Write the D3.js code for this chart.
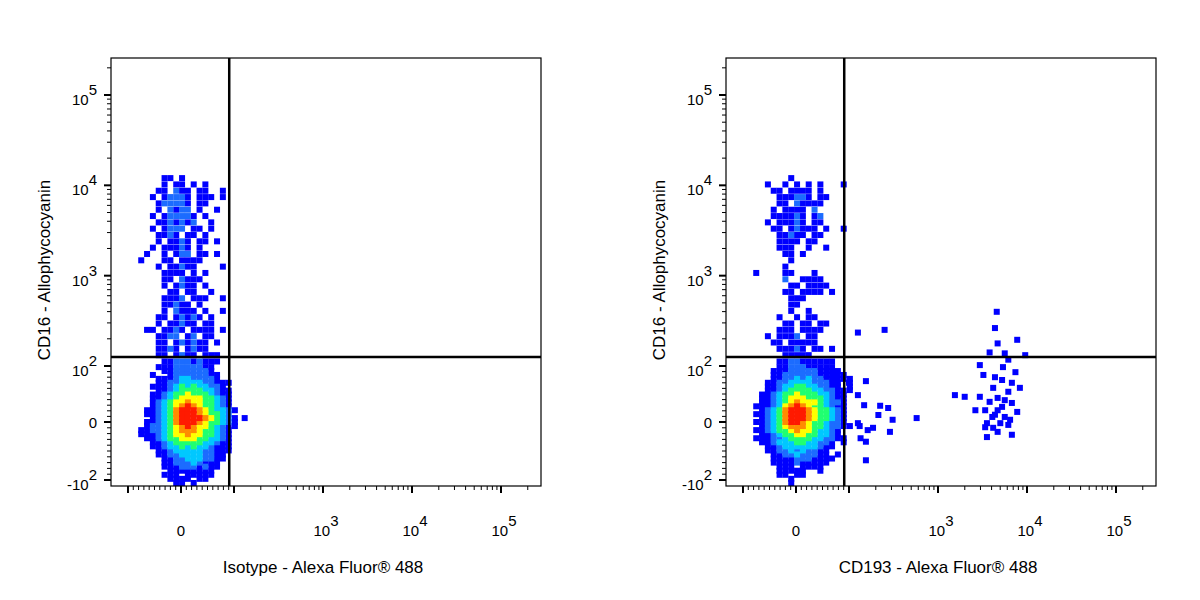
<!DOCTYPE html>
<html><head><meta charset="utf-8">
<script src="https://cdn.jsdelivr.net/npm/d3@7"></script>
<style>body{margin:0;background:#fff}svg{font-family:"Liberation Sans",Arial,sans-serif}</style>
</head><body><svg id="c" width="1200" height="600"></svg>
<script>
// All coordinates below are in display (logicle-like) units g: g=v/100 for |v|<=100, g=sign*(1+log10(|v|/100)) otherwise.
const panelTitles = ["Isotype - Alexa Fluor® 488", "CD193 - Alexa Fluor® 488"];
const yTitle = "CD16 - Allophycocyanin";
const xTickLabels = [{g:0,base:"0",exp:""},{g:2,base:"10",exp:"3"},{g:3,base:"10",exp:"4"},{g:4,base:"10",exp:"5"}];
const yTickLabels = [{g:-1,base:"-10",exp:"2"},{g:0,base:"0",exp:""},{g:1,base:"10",exp:"2"},{g:2,base:"10",exp:"3"},{g:3,base:"10",exp:"4"},{g:4,base:"10",exp:"5"}];
const gateX = 0.91, gateY = 1.1;
// density grid: column k -> gx = gridX0 + k*gridDX ; row r -> gy = gridY0 - r*gridDY
const gridX0 = -0.75, gridDX = 0.11, gridY0 = 3.15, gridDY = 0.07;
const leftGrid = [
"..................","....11.1..........","....1.11.1.1......","...11.211.11..1...","..1.12221.111.1...",
"...122221.11......","...1.2122.1..1....","..1.122221.1......","...1121212..1.....","..1.1222.11.1.....",
"...1121.11.1......","...1.1121.11.1....","..1.11121.1.......",".1..1.122.11.1....","1...11.1111.......",
"...1.11211....1...","....1111.1.1......","....11.2111.......","....1.1211.1......",".....11.11..1.....",
"....1112.111..1...","....11211.1.......","....1.2111.1..1...","...11.12121.1.....","...1.11211.11.....",
".11.1121.1111.1...","...1122.12.11.....","...11.121211.1....","...1121.1211......","...11.1211.111....",
"....1122212111....","...1112222211.....","....112222221.....","..1..122222211....","...11123322221....",
"...1122333322111..","..1112343433221...","...1123444433211..","..11234454443211..","..11234555544321..",
"..12345565544321..","..12345676544321..",".1123467776543321.",".112346777654432..","..1234677776543211",
".1123467776544321.",".1223456765543211.","1122345666544321..","1112345565544321..",".112344555443321..",
"..11234444433211..","..11233434332111..","...1123333322111..","...112233332211...","....11223332211...",
"....1122232111....","....1112221211....",".....11111111.....","....111.11111.....",".....1111.11......",
"......11.1........"];
const rightGrid = [
"..................","......1...........","..1..1.1.1.1...1..","...11.1111.1......","....111221.11.....",
"....11.21111......","...1.1111.2.......","...111121.12......","..1.11121.11......","...11.12111.1..1..",
"....11211.11......","....1111.11.......","....111..1..1.....",".....11.1.........","......1...........",
".....1............","1....11...1.......",".....2..1111......","......11.1111.....",".....11.1111.1....",
"......111.........","......11..........","......1..1........","....1..1.11.......",".....11.11.11.....",
"....111.1111......","..1.1112.11.......","...11.11111.......","....11121.11.1....",".....11111........",
"....1122111111....","....1122211111....","...111222221111...","...1122222211111..","...11223232211111.",
"..1122333322211.1.","..1123344332211.1.","..11234444332211..",".112344544433211..",".112345554443211..",
".112345655543221..","1112356765443211..",".123467776544321..","1123467776544321..",".123467776544321..",
"1123467765443221..",".12345666544322111","112344565543321...",".11234455443321...","1112234444332211..",
".1123334433221.1..","..112333333211....","..11223232211.....","...1122322211.1...","...11112221111....",
"...1111211111.....","....111.1111......","....11111..1......","....11.11.........","......1...........",
"......1..........."];
// sparse events of the right panel outside the grid: [gx, gy]
const rightPointsGX = [1.10,1.40,1.00,1.19,1.01,1.10,1.17,1.35,1.44,1.33,1.49,1.21,1.27,1.76,1.46,1.13,1.19,1.10,1.19,2.19,2.30,
2.66,2.64,2.67,2.89,2.58,2.75,2.98,2.79,2.47,2.73,2.87,2.51,2.64,2.72,2.83,2.92,2.62,2.47,2.67,2.75,2.83,2.42,2.53,2.67,2.89,2.61,2.75,2.55,2.70,2.79,2.53,2.62,2.67,2.55,2.83,2.79,2.58,2.72,2.81,2.64];
const rightPointsGY = [1.37,1.40,0.70,0.73,0.57,0.48,0.30,0.29,0.25,0.125,0.04,-0.14,-0.10,0.07,-0.17,-0.28,-0.34,-0.02,-0.66,0.48,0.45,
1.60,1.42,1.25,1.29,1.15,1.14,1.12,1.07,1.01,0.98,0.89,0.84,0.80,0.75,0.70,0.61,0.61,0.45,0.43,0.39,0.34,0.21,0.21,0.21,0.18,0.09,0.09,-0.02,-0.02,-0.05,-0.09,-0.10,-0.17,-0.26,-0.22,0.54,0.36,0.27,0.04,0.13];
const levelColors = ['#0000ff','#1c6cff','#00c8ff','#20ff70','#ffff00','#ff8c00','#ff1a00'];

const svg = d3.select('#c');
const frameL=111, frameR=541, frameT=58, frameB=486;
function panel(off, grid, pts, title){
  const g = svg.append('g').attr('transform',`translate(${off},0)`);
  const x = d3.scaleLinear().domain([-1.32,0,1,4,4.45]).range([frameL,181,234,501,frameR]);
  const y = d3.scaleLinear().domain([-1.1,-1,0,1,4,4.41]).range([frameB,480,422,366,95,frameT]);
  const cells=[];
  grid.forEach((row,r)=>{ for(let k=0;k<row.length;k++){const c=row[k]; if(c>='1'&&c<='7') cells.push({gx:gridX0+k*gridDX, gy:gridY0-r*gridDY, l:+c});}});
  cells.sort((a,b)=>a.l-b.l);
  const s=6;
  g.selectAll('rect.p').data(pts).join('rect').attr('x',d=>x(d[0])-s/2).attr('y',d=>y(d[1])-s/2).attr('width',s).attr('height',s).attr('fill',levelColors[0]);
  g.selectAll('rect.c').data(cells).join('rect').attr('x',d=>x(d.gx)-s/2).attr('y',d=>y(d.gy)-s/2).attr('width',s).attr('height',s).attr('fill',d=>levelColors[d.l-1]);
  g.append('rect').attr('x',frameL).attr('y',frameT).attr('width',frameR-frameL).attr('height',frameB-frameT).attr('fill','none').attr('stroke','#000').attr('stroke-width',1.2);
  g.append('line').attr('x1',x(gateX)).attr('x2',x(gateX)).attr('y1',frameT).attr('y2',frameB).attr('stroke','#000').attr('stroke-width',2.5);
  g.append('line').attr('x1',frameL).attr('x2',frameR).attr('y1',y(gateY)).attr('y2',y(gateY)).attr('stroke','#000').attr('stroke-width',2.5);
  const minorVals=[];
  for(let v=10;v<100;v+=10){minorVals.push(v/100,-v/100);}
  for(let d=1;d<=4;d++) for(let m=2;m<=9;m++) minorVals.push(d+Math.log10(m));
  const majors=[-1,0,1,2,3,4];
  const tk=(sel,vals,len,w,isX)=>{vals.forEach(v=>{
    if(isX){ if(v<-1.32||v>4.45) return; sel.append('line').attr('x1',x(v)).attr('x2',x(v)).attr('y1',frameB).attr('y2',frameB+len).attr('stroke','#000').attr('stroke-width',w);}
    else { if(v<-1.1||v>4.41) return; sel.append('line').attr('y1',y(v)).attr('y2',y(v)).attr('x1',frameL).attr('x2',frameL-len).attr('stroke','#000').attr('stroke-width',w);}
  });};
  tk(g,minorVals,4,1,true); tk(g,majors,7,2,true);
  tk(g,minorVals,4,1,false); tk(g,majors,7,2,false);
  xTickLabels.forEach(t=>{
    const tx=g.append('text').attr('x',x(t.g)+(t.exp?3:0)).attr('y',536).attr('font-size',15).attr('text-anchor','middle');
    tx.append('tspan').text(t.base);
    if(t.exp) tx.append('tspan').attr('dy',-10).text(t.exp);
  });
  yTickLabels.forEach(t=>{
    const tx=g.append('text').attr('x',97).attr('y',y(t.g)+(t.exp?10:6)).attr('font-size',15).attr('text-anchor','end');
    tx.append('tspan').text(t.base);
    if(t.exp) tx.append('tspan').attr('dy',-10).text(t.exp);
  });
  g.append('text').attr('x',323).attr('y',573).attr('font-size',17).attr('text-anchor','middle').text(title);
  g.append('text').attr('transform','translate(50,270) rotate(-90)').attr('font-size',17).attr('text-anchor','middle').text(yTitle);
}
panel(0,leftGrid,[],panelTitles[0]);
panel(615,rightGrid,rightPointsGX.map((v,i)=>[v,rightPointsGY[i]]),panelTitles[1]);
</script></body></html>
